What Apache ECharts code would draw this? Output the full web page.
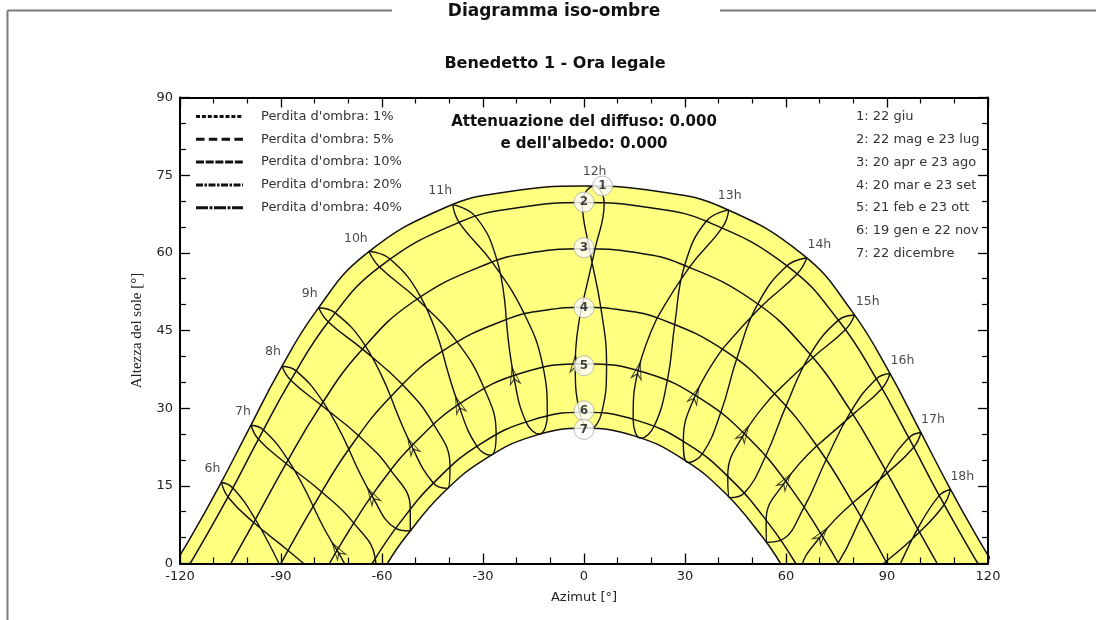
<!DOCTYPE html>
<html>
<head>
<meta charset="utf-8">
<script src="https://cdn.jsdelivr.net/npm/echarts@6/dist/echarts.min.js"></script>
<style>
html,body{margin:0;padding:0;background:#fff;}
#chart{width:1096px;height:620px;}
</style>
</head>
<body>
<div id="chart"></div>
<script>
// ---------- DATA ----------
const xTicks = [-120, -90, -60, -30, 0, 30, 60, 90, 120];
const yTicks = [0, 15, 30, 45, 60, 75, 90];

// date curves: [azimut, altezza]
const curve1 = [[-121.6,0],[-117.3,4.5],[-108.3,15.0],[-99.5,26.0],[-90.3,37.4],[-79.6,48.7],[-65.1,59.6],[-41.0,68.8],[-22.6,71.8],[0,72.9],[22.6,71.8],[41.0,68.8],[65.1,59.6],[79.6,48.7],[90.3,37.4],[99.5,26.0],[108.3,15.0],[117.3,4.5],[121.6,0]];
const curve2 = [[-117.0,0],[-114.9,2.3],[-105.6,13.0],[-96.6,24.1],[-87.0,35.5],[-75.8,46.8],[-60.5,57.4],[-36.7,66.0],[-19.7,68.7],[0,69.7],[19.7,68.7],[36.7,66.0],[60.5,57.4],[75.8,46.8],[87.0,35.5],[96.6,24.1],[105.6,13.0],[114.9,2.3],[117.0,0]];
const curve3 = [[-104.9,0],[-98.6,7.3],[-89.0,18.7],[-78.7,30.0],[-66.5,40.9],[-50.6,50.6],[-28.6,57.9],[-14.9,60.1],[0,60.8],[14.9,60.1],[28.6,57.9],[50.6,50.6],[66.5,40.9],[78.7,30.0],[89.0,18.7],[98.6,7.3],[104.9,0]];
const curve4 = [[-90,0],[-80.1,11.4],[-69.5,22.4],[-57.0,32.5],[-41.6,41.2],[-22.4,47.3],[-11.5,48.9],[0,49.5],[11.5,48.9],[22.4,47.3],[41.6,41.2],[57.0,32.5],[69.5,22.4],[80.1,11.4],[90,0]];
const curve5 = [[-75.6,0],[-72.0,4.0],[-61.5,14.5],[-49.4,23.9],[-35.2,31.6],[-18.5,36.8],[0,38.6],[18.5,36.8],[35.2,31.6],[49.4,23.9],[61.5,14.5],[72.0,4.0],[75.6,0]];
const curve6 = [[-62.9,0],[-55.0,7.6],[-43.7,16.2],[-30.7,23.1],[-15.9,27.6],[0,29.2],[15.9,27.6],[30.7,23.1],[43.7,16.2],[55.0,7.6],[62.9,0]];
const curve7 = [[-58.4,0],[-52.9,5.2],[-41.9,13.6],[-29.3,20.2],[-15.1,24.6],[0,26.1],[15.1,24.6],[29.3,20.2],[41.9,13.6],[52.9,5.2],[58.4,0]];

// hour lines (analemmas): 20mar, 20apr, 22mag, 22giu, 23lug, 23ago, 23set, 23ott, 22nov, 22dic, 19gen, 21feb, 20mar
const loop06 = [[-90.3,-0.4],[-97.6,8.5],[-104.3,14.6],[-107.7,15.7],[-105.7,12.8],[-98.1,7.9],[-87.9,2.5],[-78.3,-3.1],[-71.4,-9.4],[-70.7,-13.7],[-75.1,-13.9],[-83.0,-8.6],[-90.3,-0.4]];
const loop07 = [[-80.4,11.0],[-87.9,20.0],[-95.2,25.8],[-98.9,26.7],[-96.7,24.0],[-88.5,19.3],[-77.9,13.8],[-68.5,7.9],[-62.0,1.0],[-61.6,-3.2],[-65.9,-3.2],[-73.4,2.6],[-80.4,11.0]];
const loop08 = [[-69.8,22.0],[-77.5,31.2],[-85.5,37.2],[-89.7,38.1],[-87.1,35.4],[-78.1,30.6],[-67.0,24.7],[-57.5,18.1],[-51.6,10.6],[-51.6,6.3],[-55.9,6.8],[-63.0,13.1],[-69.8,22.0]];
const loop09 = [[-57.4,32.2],[-65.0,42.1],[-73.9,48.4],[-78.8,49.4],[-76.0,46.7],[-65.8,41.4],[-54.0,34.6],[-44.8,27.0],[-39.8,18.8],[-40.5,14.5],[-44.7,15.5],[-51.2,22.7],[-57.4,32.2]];
const loop10 = [[-42.1,41.0],[-48.6,51.6],[-57.8,58.9],[-63.9,60.3],[-60.8,57.3],[-49.6,51.1],[-37.8,42.9],[-29.7,33.9],[-26.1,25.0],[-27.7,20.9],[-31.8,22.6],[-37.3,30.7],[-42.1,41.0]];
const loop11 = [[-23.1,47.2],[-25.8,58.5],[-32.2,67.0],[-39.0,69.3],[-37.1,65.9],[-27.3,58.2],[-17.8,48.3],[-12.2,38.1],[-10.9,28.6],[-13.3,25.0],[-17.2,27.3],[-20.9,36.3],[-23.1,47.2]];
const loop12 = [[-0.7,49.5],[3.3,60.8],[6.0,69.6],[3.0,72.9],[-0.5,69.7],[1.6,60.8],[5.0,49.4],[6.7,38.4],[5.2,29.0],[1.9,26.1],[-1.3,29.2],[-2.6,38.6],[-0.7,49.5]];
const loop13 = [[21.7,47.4],[31.4,57.3],[41.2,65.0],[43.0,68.3],[36.3,66.1],[29.9,57.6],[27.0,46.4],[24.8,35.5],[20.9,26.6],[16.9,24.2],[14.6,27.9],[16.1,37.3],[21.7,47.4]];
const loop14 = [[41.1,41.4],[52.6,49.6],[63.3,55.9],[66.2,59.0],[60.3,57.5],[51.6,50.1],[45.4,39.6],[40.7,29.3],[35.2,21.2],[30.9,19.5],[29.5,23.6],[33.1,32.5],[41.1,41.4]];
const loop15 = [[56.6,32.8],[68.0,39.8],[77.7,45.2],[80.4,48.0],[75.6,47.0],[67.2,40.4],[60.0,30.4],[54.0,20.8],[47.6,13.6],[43.3,12.7],[42.7,16.9],[47.6,25.1],[56.6,32.8]];
const loop16 = [[69.1,22.7],[79.9,28.8],[88.5,33.8],[90.9,36.7],[86.9,35.7],[79.3,29.4],[71.9,20.0],[65.4,10.9],[58.5,4.5],[54.2,4.1],[54.1,8.3],[59.9,15.9],[69.1,22.7]];
const loop17 = [[79.8,11.7],[90.1,17.5],[98.0,22.5],[100.1,25.3],[96.5,24.3],[89.5,18.1],[82.3,8.9],[75.6,0.2],[68.2,-5.7],[63.8,-5.7],[64.3,-1.5],[70.6,5.5],[79.8,11.7]];
const loop18 = [[89.7,0.4],[99.7,6.1],[106.9,11.3],[108.8,14.3],[105.5,13.1],[99.1,6.7],[92.1,-2.5],[85.1,-11.1],[77.2,-16.6],[72.8,-16.3],[73.6,-12.1],[80.4,-5.5],[89.7,0.4]];

const hourNames = ['6h','7h','8h','9h','10h','11h','12h','13h','14h','15h','16h','17h','18h'];
const hourLoops = [loop06,loop07,loop08,loop09,loop10,loop11,loop12,loop13,loop14,loop15,loop16,loop17,loop18];

const dateMarkerPos = [[5.5,72.9],[0,69.8],[0,61.0],[0,49.4],[0,38.2],[0,29.5],[0,25.9]];
const dateMarkerNames = ['1','2','3','4','5','6','7'];
const dateLegend = ['1: 22 giu','2: 22 mag e 23 lug','3: 20 apr e 23 ago','4: 20 mar e 23 set','5: 21 feb e 23 ott','6: 19 gen e 22 nov','7: 22 dicembre'];
const lossNames = ["Perdita d'ombra: 1%","Perdita d'ombra: 5%","Perdita d'ombra: 10%","Perdita d'ombra: 20%","Perdita d'ombra: 40%"];
const titleText = 'Diagramma iso-ombre';
const subtitleText = 'Benedetto 1 - Ora legale';
const noteLines = ['Attenuazione del diffuso: 0.000', "e dell'albedo: 0.000"];

// ---------- STYLE ----------
const FONT = "'DejaVu Sans', sans-serif";
const lossDash = [[4,1.9],[8.5,4.3],[8,1.7],[7,1.5,2.5,1.5],[12,1.5,3,1.5]];
const hourLabelOffsets = [[-9,-13],[-8,-13.5],[-9,-14],[-9,-14],[-13,-13],[-12.5,-14],[0.5,-14],[1,-14],[12.5,-13],[13,-13],[12.5,-13],[12,-13],[12,-13]];

const lineBase = {type:'line', smooth:0.45, showSymbol:false, symbol:'none', silent:true, clip:true,
  lineStyle:{color:'#111', width:1.5}};

const series = [];
series.push(Object.assign({}, lineBase, {name:'c1', data:curve1, z:2,
  areaStyle:{color:'#ffff80', opacity:1}}));
series.push(Object.assign({}, lineBase, {name:'c7', data:curve7, z:2,
  areaStyle:{color:'#ffffff', opacity:1}}));
[curve2,curve3,curve4,curve5,curve6].forEach((c,i)=>{
  series.push(Object.assign({}, lineBase, {name:'c'+(i+2), data:c, z:3}));
});
hourLoops.forEach((l,i)=>{
  series.push(Object.assign({}, lineBase, {name:hourNames[i], data:l, z:3, lineStyle:{color:'#111', width:1.4}}));
});
// hour labels at the top of each loop
series.push({type:'scatter', name:'hourLabels', silent:true, z:6, symbolSize:1,
  itemStyle:{color:'rgba(0,0,0,0)'},
  data: hourLoops.map((l,i)=>({value:l[3], label:{show:true, formatter:hourNames[i], position:'inside',
    offset:hourLabelOffsets[i], color:'#1a1a1a', fontFamily:FONT, fontSize:12.5}}))});
// arrows placeholder (rotation set after first layout)
const arrowSeriesIndex = series.length;
series.push({type:'scatter', name:'arrows', silent:true, z:5,
  symbol:'path://M5,0 L0,17 L5,12 L10,17 Z', symbolSize:[10,17],
  itemStyle:{color:'rgba(0,0,0,0)', borderColor:'#111', borderWidth:1.1},
  data:[]});
// date markers
series.push({type:'scatter', name:'markers', silent:true, z:8, symbol:'circle', symbolSize:20,
  itemStyle:{color:'#fff', borderColor:'#aaa', borderWidth:1},
  label:{show:true, position:'inside', color:'#111', fontFamily:FONT, fontWeight:'bold', fontSize:12,
    formatter:(p)=>dateMarkerNames[p.dataIndex]},
  data: dateMarkerPos});

const axisCommon = {
  axisLine:{show:true, onZero:false, lineStyle:{color:'#000', width:2}},
  splitLine:{show:false},
  z:10
};
const tickCommon = {
  axisTick:{show:true, inside:true, length:10, lineStyle:{color:'#000', width:1.3}},
  minorTick:{show:true, splitNumber:3, length:6, lineStyle:{color:'#000', width:1.2}}
};

// legend of shadow-loss line styles
const legendGraphics = [];
lossNames.forEach((n,i)=>{
  const y = 116.5 + 22.8*i;
  legendGraphics.push({type:'line', silent:true, z:20, shape:{x1:196, y1:y, x2:243, y2:y},
    style:{stroke:'#111', lineWidth:3, lineDash:lossDash[i]}});
  legendGraphics.push({type:'text', silent:true, z:20, x:261, y:y,
    style:{text:n, font:"13px 'DejaVu Sans', sans-serif", fill:'#333', align:'left', verticalAlign:'middle'}});
});

const option = {
  animation:false,
  backgroundColor:'#fff',
  grid:{left:180, top:97.5, width:808, height:466},
  xAxis:[
    Object.assign({}, axisCommon, tickCommon, {type:'value', min:-120, max:120, interval:30, position:'bottom',
      axisLabel:{show:true, color:'#222', fontFamily:FONT, fontSize:13, margin:7,
        formatter:(v)=> xTicks.indexOf(v)>=0 ? String(v) : ''},
      name:'Azimut [°]', nameLocation:'middle', nameGap:28,
      nameTextStyle:{color:'#222', fontFamily:FONT, fontSize:13}}),
    Object.assign({}, axisCommon, tickCommon, {type:'value', min:-120, max:120, interval:30, position:'top',
      axisLabel:{show:false}})
  ],
  yAxis:[
    Object.assign({}, axisCommon, tickCommon, {type:'value', min:0, max:90, interval:15, position:'left',
      axisLabel:{show:true, color:'#222', fontFamily:FONT, fontSize:13, margin:7,
        formatter:(v)=> yTicks.indexOf(v)>=0 ? String(v) : ''},
      name:'Altezza del sole [°]', nameLocation:'middle', nameGap:35, nameRotate:90,
      nameTextStyle:{color:'#222', fontFamily:"'Liberation Serif', serif", fontSize:15}}),
    Object.assign({}, axisCommon, tickCommon, {type:'value', min:0, max:90, interval:15, position:'right',
      axisLabel:{show:false}})
  ],
  graphic:[
    {type:'line', shape:{x1:7.5, y1:10.5, x2:392, y2:10.5}, style:{stroke:'#7a7a7a', lineWidth:2}, silent:true},
    {type:'line', shape:{x1:720, y1:10.5, x2:1096, y2:10.5}, style:{stroke:'#7a7a7a', lineWidth:2}, silent:true},
    {type:'line', shape:{x1:7.5, y1:10.5, x2:7.5, y2:620}, style:{stroke:'#7a7a7a', lineWidth:2}, silent:true},
    {type:'text', x:554, y:12, silent:true, style:{text:titleText, font:"bold 17px 'DejaVu Sans', sans-serif", fill:'#111', align:'center', verticalAlign:'middle'}},
    {type:'text', x:555, y:64, silent:true, style:{text:subtitleText, font:"bold 16px 'DejaVu Sans', sans-serif", fill:'#111', align:'center', verticalAlign:'middle'}},
    {type:'text', x:584, y:121.7, silent:true, z:20, style:{text:noteLines[0], font:"bold 15px 'DejaVu Sans', sans-serif", fill:'#111', align:'center', verticalAlign:'middle'}},
    {type:'text', x:584, y:144, silent:true, z:20, style:{text:noteLines[1], font:"bold 15px 'DejaVu Sans', sans-serif", fill:'#111', align:'center', verticalAlign:'middle'}},
    {type:'text', x:856, y:105.5, silent:true, z:20, style:{text:dateLegend.join('\n'), font:"13px 'DejaVu Sans', sans-serif", fill:'#333', lineHeight:22.8, align:'left'}}
  ].concat(legendGraphics),
  series: series
};

const chart = echarts.init(document.getElementById('chart'), null, {renderer:'canvas'});
chart.setOption(option);

// arrows at the 21 feb point of each hour line, pointing toward 20 mar
const arrowData = [];
hourLoops.forEach((l, i) => {
  if (i === 0 || i === hourLoops.length - 1) return;
  const p = l[11], a = l[10], b = l[12];
  const pa = chart.convertToPixel({xAxisIndex:0, yAxisIndex:0}, a);
  const pb = chart.convertToPixel({xAxisIndex:0, yAxisIndex:0}, b);
  const dx = pb[0]-pa[0], dy = pb[1]-pa[1];
  arrowData.push({value:p, symbolRotate: Math.atan2(-dx, -dy)*180/Math.PI});
});
const upd = series.map((s, i) => i === arrowSeriesIndex ? {data: arrowData} : {});
chart.setOption({series: upd});
</script>
</body>
</html>
